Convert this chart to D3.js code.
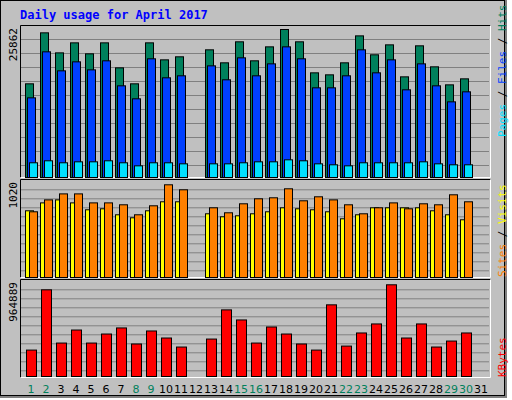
<!DOCTYPE html>
<html><head><meta charset="utf-8">
<script src="https://cdn.jsdelivr.net/npm/d3@7"></script>
<style>body{margin:0;background:#fff}</style></head>
<body><svg id="c" width="512" height="400"></svg>
<script>
const days = d3.range(1, 32);
const weekend = [1,2,8,9,15,16,22,23,29,30];
const hits  = [16370,25280,21780,23530,21610,23530,19160,16370,23530,20560,21090,0,22310,20040,23710,20390,22830,25862,23710,18290,17940,20040,24750,21440,23180,17590,23010,19340,16190,17240,0];
const files = [13920,21960,18640,20210,18810,20390,16020,13750,20740,17420,17770,0,19510,17070,20910,17770,19860,22830,20740,15670,15670,17770,22310,18290,20560,15320,19860,16020,13220,14970,0];
const pages = [2570,2920,2570,2740,2740,2920,2570,2040,2570,2570,2390,0,2390,2390,2570,2740,2740,3090,2920,2390,2220,2040,2570,2570,2570,2570,2740,2390,2220,2220,0];
const sites = [734,821,854,821,745,756,690,657,734,833,833,0,701,668,679,701,723,767,756,745,723,646,690,767,767,767,767,734,690,635,0];
const visits= [723,854,920,920,821,821,800,690,789,1020,965,0,767,712,811,866,877,976,844,888,854,800,701,767,821,756,811,800,910,833,0];
const kbytes= [278000,912000,352000,489000,352000,447000,511000,342000,479000,405000,310000,0,394000,701000,595000,352000,521000,447000,342000,278000,754000,320000,458000,553000,964889,405000,553000,310000,373000,458000,0];
const maxLabels = ["25862","1020","964889"];

const svg = d3.select("#c");
svg.append("rect").attr("width",512).attr("height",400).attr("fill","#fff");
svg.append("rect").attr("x",0).attr("y",0).attr("width",507).attr("height",398).attr("fill","#808080");
svg.append("rect").attr("x",0.5).attr("y",0.5).attr("width",504).attr("height",395).attr("fill","#c0c0c0").attr("stroke","#000");

svg.append("text").attr("x",20).attr("y",19).attr("fill","#0000ff")
  .attr("font-family","DejaVu Sans Mono").attr("font-weight","bold").attr("font-size",12)
  .text("Daily usage for April 2017");

const x = d3.scaleLinear().domain([1,32]).range([25,490]);

const panels = [
  {top:25, bot:177, base:177, maxY:29, max:25862, grid:d3.range(165,30,-14),
   series:[{d:hits,c:"#00805c",off:0},{d:files,c:"#0040ff",off:2},{d:pages,c:"#00e0ff",off:4}]},
  {top:179, bot:277, base:277, maxY:184.3, max:1020, grid:d3.range(270.3,185,-9),
   series:[{d:sites,c:"#ffff00",off:0},{d:visits,c:"#ff8000",off:4}]},
  {top:279, bot:377, base:376, maxY:284.3, max:964889, grid:d3.range(370.3,285,-9),
   series:[{d:kbytes,c:"#ff0000",off:1,w:10}]}
];

panels.forEach((p,pi)=>{
  const y = d3.scaleLinear().domain([0,p.max]).range([p.base,p.maxY]);
  const g = svg.append("g");
  g.selectAll(".gl").data(p.grid).enter().append("line")
    .attr("x1",21).attr("x2",489).attr("y1",d=>d+0.5).attr("y2",d=>d+0.5)
    .attr("stroke","#808080");
  // border: black top/left, white bottom/right
  g.append("path").attr("d",`M20.5,${p.bot+0.5}V${p.top+0.5}H490.5`).attr("stroke","#000").attr("fill","none");
  g.append("path").attr("d",`M20.5,${p.bot+0.5}H490.5V${p.top+0.5}`).attr("stroke","#fff").attr("fill","none");
  p.series.forEach(s=>{
    const w = s.w || 8;
    g.selectAll(null).data(days.filter((d,i)=>s.d[i]>0)).enter().append("rect")
      .attr("x",d=>x(d)+s.off+0.5).attr("width",w)
      .attr("y",d=>y(s.d[d-1])+0.5).attr("height",d=>p.base-y(s.d[d-1]))
      .attr("fill",s.c).attr("stroke","#000");
  });
  svg.append("text").attr("transform",`translate(17,${p.top+3}) rotate(-90)`)
    .attr("text-anchor","end").attr("font-family","DejaVu Sans Mono").attr("font-size",11)
    .attr("fill","#000").text(maxLabels[pi]);
});

// right labels
function rlabel(yb, parts){
  const t = svg.append("text").attr("transform",`translate(506,${yb}) rotate(-90)`)
    .attr("font-family","DejaVu Sans Mono").attr("font-size",11);
  parts.forEach(([s,c])=>t.append("tspan").attr("fill",c).text(s));
}
rlabel(137,[["Pages","#00e0ff"],[" / ","#000"],["Files","#0040ff"],[" / ","#000"],["Hits","#00805c"]]);
rlabel(277,[["Sites","#ff8000"],[" / ","#000"],["Visits","#ffff00"]]);
rlabel(377,[["KBytes","#ff0000"]]);

svg.selectAll(".dl").data(days).enter().append("text")
  .attr("x",d=>x(d)+6).attr("y",393).attr("text-anchor","middle")
  .attr("font-family","DejaVu Sans").attr("font-size",11)
  .attr("fill",d=>weekend.includes(d)?"#00805c":"#000").text(d=>d);
</script></body></html>
